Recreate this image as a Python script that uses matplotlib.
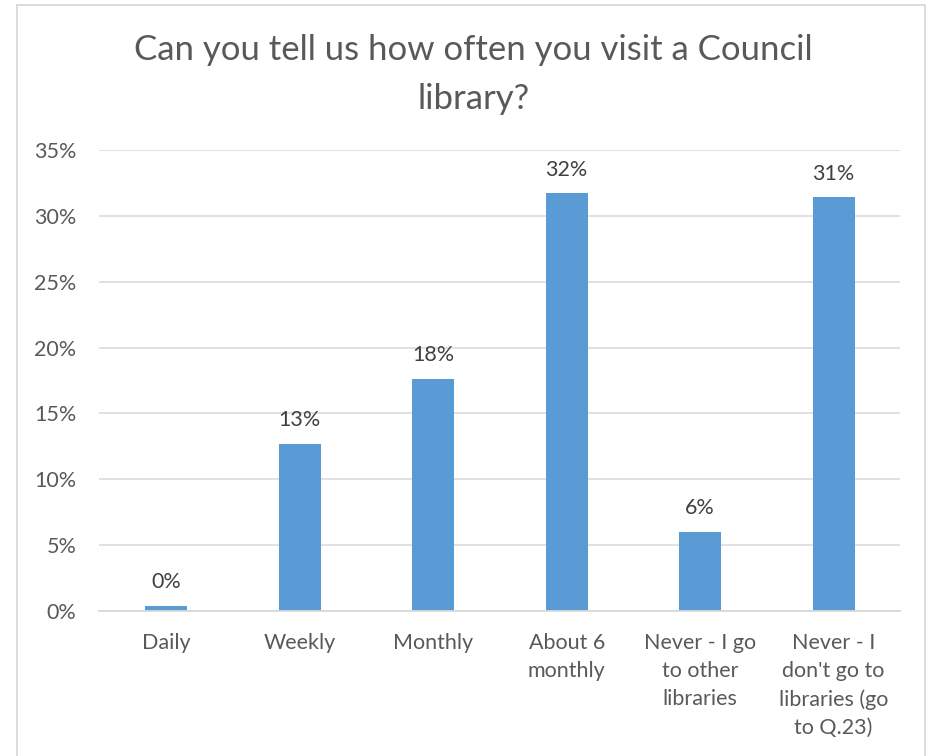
import matplotlib.pyplot as plt
from matplotlib.patches import Rectangle
from matplotlib.ticker import PercentFormatter

categories = ["Daily", "Weekly", "Monthly", "About 6\nmonthly",
              "Never - I go\nto other\nlibraries",
              "Never - I\ndon't go to\nlibraries (go\nto Q.23)"]
shares = [0.4, 12.7, 17.6, 31.7, 6.0, 31.4]
y_ticks = [0, 5, 10, 15, 20, 25, 30, 35]

plt.rcParams['font.family'] = ['Lato', 'DejaVu Sans']

fig = plt.figure(figsize=(9.34, 7.56), dpi=100)
ax = fig.add_axes([0.1065, 0.1918, 0.8575, 0.6098])

x = range(len(categories))
ax.bar(x, shares, width=0.315, color='#5B9BD5', zorder=3)

for xi, v in zip(x, shares):
    ax.annotate(f"{v:.0f}%", (xi, v), xytext=(0, 10), textcoords='offset points',
                ha='center', va='bottom', fontsize=15.5, color='#404040')

ax.set_xlim(-0.5, len(categories) - 0.5)
ax.set_ylim(0, 35)
ax.set_yticks(y_ticks)
ax.yaxis.set_major_formatter(PercentFormatter(decimals=0))
ax.set_xticks(list(x))
ax.set_xticklabels(categories, linespacing=1.5)
ax.tick_params(axis='both', length=0, labelsize=15.5, colors='#595959')
ax.tick_params(axis='x', pad=16)
ax.tick_params(axis='y', pad=16.5)
ax.grid(axis='y', color='#d9d9d9', linewidth=1.1, zorder=0)

for side in ['top', 'right', 'left']:
    ax.spines[side].set_visible(False)
ax.spines['bottom'].set_color('#d9d9d9')
ax.spines['bottom'].set_linewidth(1.3)
ax.spines['bottom'].set_zorder(4)

fig.text(0.507, 0.901, "Can you tell us how often you visit a Council\nlibrary?",
         ha='center', va='center', fontsize=25, color='#595959', linespacing=1.65)

# outer chart frame
fig.patches.append(Rectangle((17 / 934, -0.01), (925 - 17) / 934, 1 - 5 / 756 + 0.01,
                             transform=fig.transFigure, fill=False,
                             edgecolor='#d9d9d9', linewidth=1.3))

fig.savefig('out.png', dpi=100)
